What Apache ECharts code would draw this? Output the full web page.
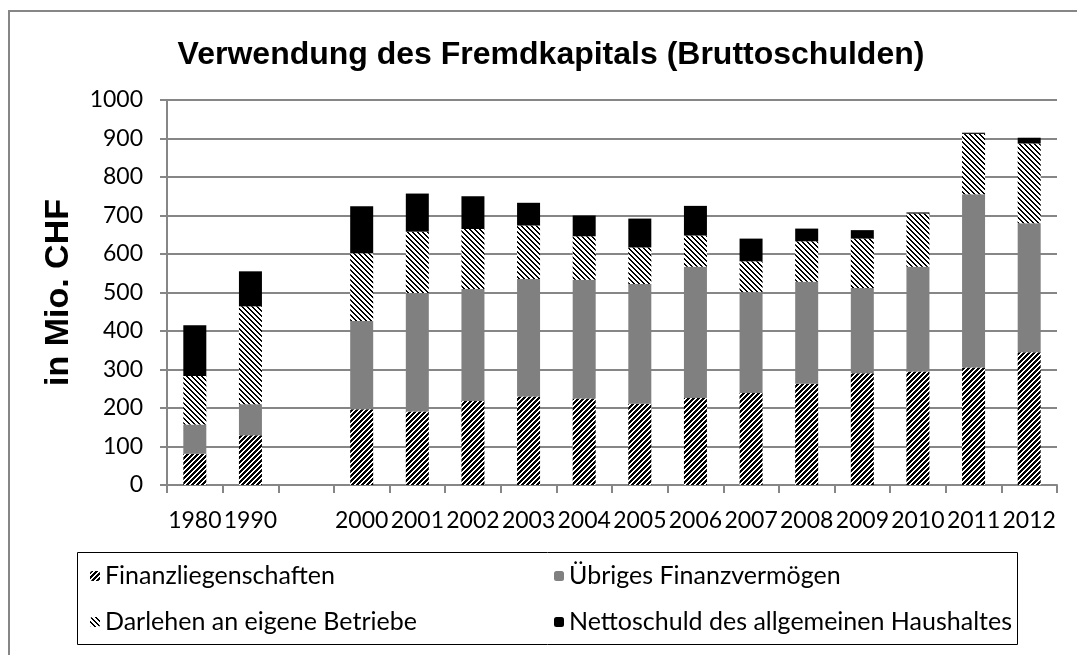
<!DOCTYPE html>
<html><head><meta charset="utf-8">
<script src="https://cdn.jsdelivr.net/npm/echarts@6/dist/echarts.min.js"></script>
<style>html,body{margin:0;padding:0;background:#fff}#c{width:1077px;height:655px}</style>
</head><body><div id="c"></div>
<script>
const categories = ['1980','1990','','2000','2001','2002','2003','2004','2005','2006','2007','2008','2009','2010','2011','2012'];
const seriesNames = ['Finanzliegenschaften','Übriges Finanzvermögen','Darlehen an eigene Betriebe','Nettoschuld des allgemeinen Haushaltes'];
const finanzliegenschaften = [81,129,null,197,191,218,230,225,211,226,239,263,290,295,305,345];
const uebrigesFinanzvermoegen = [76,81,null,229,308,291,305,308,311,341,262,265,222,272,450,335];
const darlehenBetriebe = [126,254,null,176,159,156,139,113,95,81,80,105,128,138,157,207];
const nettoschuld = [132,91,null,122,99,85,59,54,75,77,59,33,22,3,3,15];
const yTicks = {min:0, max:1000, interval:100};

function stripes(dir, period, width){
  const n = period*4;
  const cv = document.createElement('canvas'); cv.width = n; cv.height = n;
  const ctx = cv.getContext('2d');
  const img = ctx.createImageData(n,n);
  for (let y=0;y<n;y++) for (let x=0;x<n;x++){
    const v = dir > 0 ? ((x + y) % period) : (((x - y) % period) + period) % period;
    const c = v < width ? 0 : 255;
    const i = (y*n+x)*4;
    img.data[i]=c; img.data[i+1]=c; img.data[i+2]=c; img.data[i+3]=255;
  }
  ctx.putImageData(img,0,0);
  return {image: cv, repeat: 'repeat'};
}
const patFin = stripes(1, 5, 3);
const patDarl = stripes(-1, 5, 2);

const chart = echarts.init(document.getElementById('c'), null, {renderer:'canvas'});
const lab = {fontFamily:'Lato', fontSize:23, color:'#000'};
const legLab = {fontFamily:'Lato', fontSize:25, color:'#000', lineHeight:26};
const gray = '#868686';
function bar(name, data, color){
  return {name, type:'bar', stack:'s', data, barWidth:23, itemStyle:{color}, emphasis:{disabled:true}};
}
chart.setOption({
  animation:false,
  title:{text:'Verwendung des Fremdkapitals (Bruttoschulden)', left:546, textAlign:'center', top:34,
    textStyle:{fontFamily:'Liberation Sans', fontWeight:'bold', fontSize:32, color:'#000'}},
  grid:{left:167, right:20, top:100, bottom:170},
  xAxis:{type:'category', data:categories,
    axisLine:{lineStyle:{color:gray, width:2}},
    axisTick:{show:true, interval:0, length:8, lineStyle:{color:gray, width:2}},
    axisLabel:{interval:0, margin:24, ...lab}},
  yAxis:{type:'value', min:yTicks.min, max:yTicks.max, interval:yTicks.interval,
    name:'in Mio. CHF', nameLocation:'middle', nameGap:91, nameRotate:90,
    nameTextStyle:{fontFamily:'Liberation Sans', fontWeight:'bold', fontSize:34, color:'#000'},
    axisLine:{show:true, lineStyle:{color:gray, width:2}},
    axisTick:{show:true, length:7, lineStyle:{color:gray, width:2}},
    axisLabel:{margin:24, formatter: v => String(v), ...lab},
    splitLine:{lineStyle:{color:gray, width:2}}},
  legend:[
    {data:[seriesNames[0], seriesNames[2]], orient:'vertical', left:85, top:558, itemWidth:10, itemHeight:10, itemGap:20,
      textStyle:legLab, selectedMode:false},
    {data:[seriesNames[1], seriesNames[3]], orient:'vertical', left:549, top:558, itemWidth:10, itemHeight:10, itemGap:20,
      textStyle:legLab, selectedMode:false}
  ],
  graphic:[
    {type:'rect', shape:{x:77.5, y:552.5, width:940, height:92}, style:{fill:'none', stroke:'#000', lineWidth:1}, silent:true},
    {type:'rect', shape:{x:9, y:11, width:1200, height:800}, style:{fill:'none', stroke:gray, lineWidth:2}, silent:true}
  ],
  series:[
    bar(seriesNames[0], finanzliegenschaften, patFin),
    bar(seriesNames[1], uebrigesFinanzvermoegen, '#808080'),
    bar(seriesNames[2], darlehenBetriebe, patDarl),
    bar(seriesNames[3], nettoschuld, '#000')
  ]
});
</script></body></html>
